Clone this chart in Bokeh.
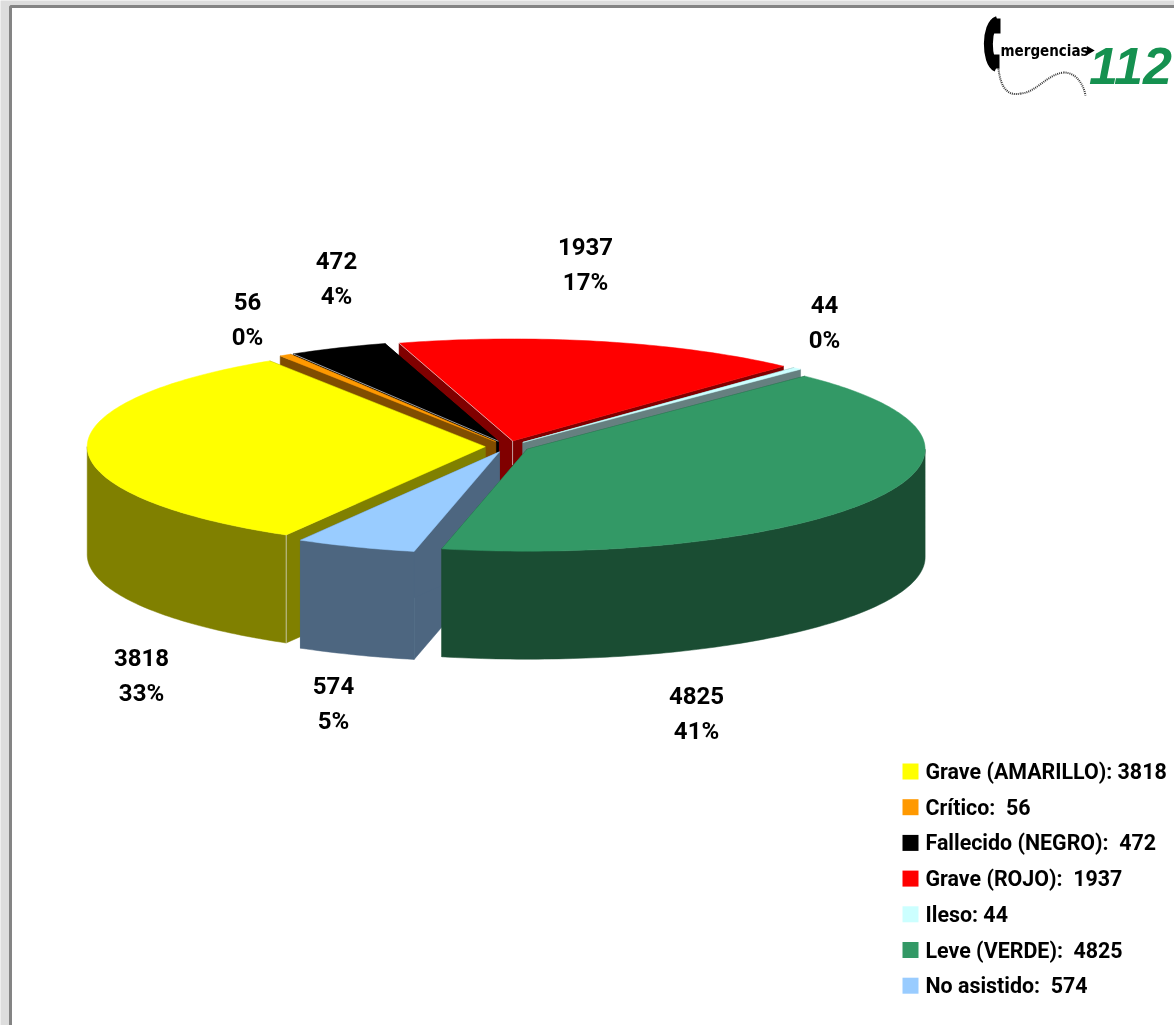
import math
from bokeh.plotting import figure
from bokeh.embed import file_html
from bokeh.resources import INLINE
from bokeh.core.properties import value

# ---- data ----
categories = ["Grave (AMARILLO)", "Crítico", "Fallecido (NEGRO)", "Grave (ROJO)", "Ileso", "Leve (VERDE)", "No asistido"]
values = [3818, 56, 472, 1937, 44, 4825, 574]
legend_labels = ["Grave (AMARILLO): 3818", "Crítico: \u00a056", "Fallecido (NEGRO): \u00a0472", "Grave (ROJO): \u00a01937",
                 "Ileso: 44", "Leve (VERDE): \u00a04825", "No asistido: \u00a0574"]
top_colors = ["#FFFF00", "#FF9900", "#000000", "#FF0000", "#CCFFFF", "#339966", "#99CCFF"]
side_colors = ["#808000", "#804D00", "#000000", "#800000", "#668080", "#1A4D33", "#4D6680"]

# ---- layout (pixels in a page-sized coordinate system) ----
W, H = 1174, 1025
CX, CY, RX, RY, DEPTH, EXPLODE = 507, 446, 398, 102, 108, 0.056
START_DEG = 210
label_x = [141, 247, 336, 585, 824, 696, 333]
label_y = [657, 301, 260, 246, 304, 695, 685]
LABEL_GAP = 35
paint_order = [3, 2, 1, 4, 0, 6, 5]
LEG_X, LEG_Y, LEG_STEP, LEG_SIZE = 902, 771, 35.7, 16
FONT = value("Roboto")

p = figure(width=W, height=H, x_range=(0, W), y_range=(H, 0), toolbar_location=None,
           output_backend="svg", min_border=0, outline_line_color=None,
           background_fill_color="#DDDDDD", border_fill_color="#DDDDDD",
           styles={"position": "fixed", "left": "0px", "top": "0px"})
p.axis.visible = False
p.grid.visible = False

# chart frame
p.quad(left=[10], right=[W + 10], top=[6], bottom=[H + 10], fill_color="#FFFFFF", line_color="#848484", line_width=3)

# pie geometry
total = sum(values)
bounds = [START_DEG]
for v in values:
    bounds.append(bounds[-1] + v / total * 360)


def rim(deg, ax, ay):
    r = math.radians(deg)
    return ax + RX * math.sin(r), ay - RY * math.cos(r)


def arc(d0, d1, ax, ay):
    n = max(2, int(abs(d1 - d0)) + 2)
    return [rim(d0 + (d1 - d0) * i / (n - 1), ax, ay) for i in range(n)]


def face(points, color):
    xs = [q[0] for q in points]
    ys = [q[1] for q in points]
    p.patch(xs, ys, fill_color=color, line_color=color, line_width=0.5)


HAIR = "#DDDDDD"
for i in paint_order:
    t0, t1 = bounds[i], bounds[i + 1]
    mid = math.radians((t0 + t1) / 2)
    ax = CX + EXPLODE * RX * math.sin(mid)
    ay = CY - EXPLODE * RY * math.cos(mid)
    # radial cut faces, when turned towards the viewer
    for t, sign in ((t0, 1), (t1, -1)):
        ex, ey = rim(t, ax, ay)
        inner = rim(t + sign, ax, ay)
        if ((ex - ax) * (inner[1] - ey) - (ey - ay) * (inner[0] - ex)) * sign > 0:
            face([(ax, ay), (ex, ey), (ex, ey + DEPTH), (ax, ay + DEPTH)], side_colors[i])
    # outer wall (front half of the rim)
    for k in (0, 360):
        lo, hi = max(t0, 90 + k), min(t1, 270 + k)
        if hi > lo:
            upper = arc(lo, hi, ax, ay)
            lower = [(x, y + DEPTH) for x, y in reversed(upper)]
            face(upper + lower, side_colors[i])
    # top
    face([(ax, ay)] + arc(t0, t1, ax, ay), top_colors[i])
    # pale hairlines on a few bevel edges
    ex, ey = rim(t0, ax, ay)
    if i in (2, 3):
        p.line([ax, ex], [ay, ey], line_color=HAIR, line_width=0.7)
    if i == 3:
        p.line([ax, ax], [ay, ay + 24], line_color=HAIR, line_width=0.7)
    if i == 0:
        p.line([ex, ex], [ey, ey + DEPTH], line_color=HAIR, line_width=0.7)

# value labels
counts = [str(v) for v in values]
percents = [f"{round(v / total * 100)}%" for v in values]
p.text(label_x, label_y, text=counts, text_font=FONT, text_font_style="bold", text_font_size="24px",
       text_align="center", text_baseline="middle", text_color="#000000")
p.text(label_x, [y + LABEL_GAP for y in label_y], text=percents, text_font=FONT, text_font_style="bold",
       text_font_size="24px", text_align="center", text_baseline="middle", text_color="#000000")

# legend
rows = [LEG_Y + LEG_STEP * i for i in range(len(values))]
p.rect([LEG_X + LEG_SIZE / 2] * len(rows), rows, width=LEG_SIZE, height=LEG_SIZE,
       fill_color=top_colors, line_color=None)
p.text([LEG_X + 23] * len(rows), rows, text=legend_labels, text_font=FONT, text_font_style="bold",
       text_font_size="21.4px", text_align="left", text_baseline="middle", text_color="#000000")

# logo
p.bezier(x0=[997], y0=[20], x1=[996], y1=[67], cx0=[985], cy0=[24], cx1=[985], cy1=[62],
         line_color="#000000", line_width=9)
p.quad(left=[992], right=[1000], top=[18], bottom=[33], fill_color="#000000", line_color=None)
p.quad(left=[992], right=[999], top=[54], bottom=[68], fill_color="#000000", line_color=None)
p.bezier(x0=[998, 1020, 1063], y0=[68, 93, 72], x1=[1020, 1063, 1085], y1=[93, 72, 95],
         cx0=[1000, 1036, 1076], cy0=[88, 92, 72], cx1=[1008, 1046, 1083], cy1=[96, 74, 84],
         line_color="#333333", line_width=2, line_dash="1 1")
p.text([1000], [50], text=["mergencias"], text_font=value("DejaVu Sans Condensed"), text_font_style="bold",
       text_font_size="15px", text_align="left", text_baseline="middle", text_color="#000000")
p.scatter([1089], [50], marker="triangle", size=9, angle=-math.pi / 2, fill_color="#000000", line_color=None)
p.text([1130], [65], text=["112"], text_font=value("Liberation Sans"), text_font_style="bold italic",
       text_font_size="52px", text_align="center", text_baseline="middle", text_color="#159150")

open("out.html", "w").write(file_html(p, INLINE))
